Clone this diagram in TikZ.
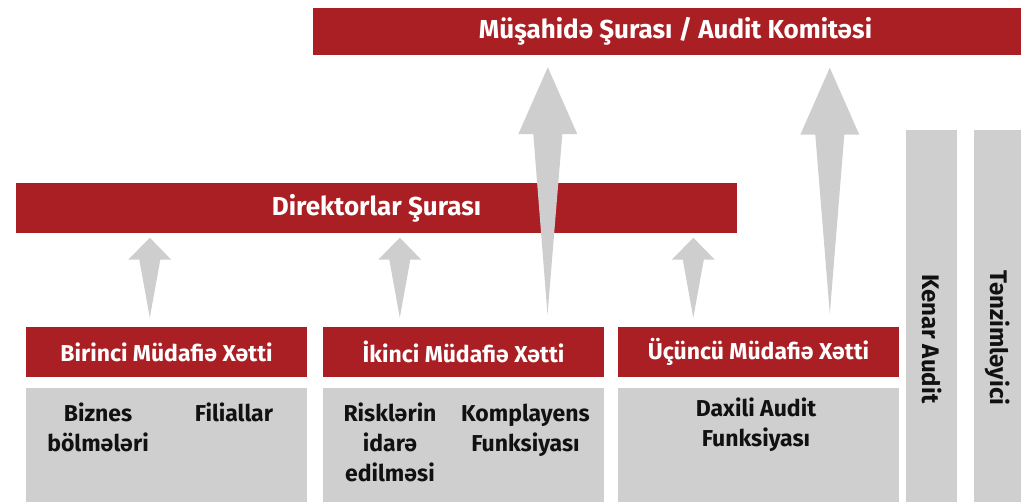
\documentclass[tikz,border=0pt]{standalone}
\usepackage{fontspec}
\setmainfont{Fira Sans}
\usetikzlibrary{calc}
\definecolor{barred}{RGB}{170,31,36}
\definecolor{boxgray}{RGB}{207,207,207}
\definecolor{arrowgray}{RGB}{206,206,206}
\definecolor{darktext}{RGB}{17,17,17}
\tikzset{
  redbar/.style={fill=barred, draw=none, inner sep=0pt, text=white, font=\bfseries\fontsize{26}{30}\selectfont},
  hdrbar/.style={fill=barred, draw=none, inner sep=0pt, text=white, minimum width=281pt, minimum height=50pt, font=\bfseries\fontsize{23}{27}\selectfont},
  graybox/.style={fill=boxgray, draw=none, inner sep=0pt},
  bodytext/.style={text=darktext, align=center, anchor=base, inner sep=0pt, font=\bfseries\fontsize{23}{30}\selectfont},
  vtext/.style={text=darktext, rotate=-90, inner sep=0pt, font=\bfseries\fontsize{24}{28}\selectfont},
  arrowfill/.style={fill=arrowgray, draw=none}
}
% #1 tail, #2 tip, #3 head half width, #4 shaft half width, #5 head length
\newcommand\fatuparrow[5]{%
  \fill[arrowfill] (#1) -- ($(#2)+(-#4,#5)$) -- ($(#2)+(-#3,#5)$) -- (#2)
    -- ($(#2)+(#3,#5)$) -- ($(#2)+(#4,#5)$) -- cycle;}
\begin{document}
\begin{tikzpicture}[x=1pt, y=-1pt]
\useasboundingbox (0,0) rectangle (1021,502);
% top bar
\node[redbar, minimum width=725pt, minimum height=47pt] (sup) at (675.5,31.5) {Müşahidə Şurası / Audit Komitəsi};
% board
\node[redbar, minimum width=721pt, minimum height=50pt] (board) at (376.5,208) {Direktorlar Şurası};
% vertical bars
\node[graybox, minimum width=51pt, minimum height=380pt] (ext) at (931.5,320) {};
\node[vtext] (extt) at (932,339) {Kenar Audit};
\node[graybox, minimum width=51pt, minimum height=380pt] (reg) at (999.5,320) {};
\node[vtext] (regt) at (998,338) {Tənzimləyici};
% lines of defence headers
\node[hdrbar] (l1) at (166.5,352) {Birinci Müdafiə Xətti};
\node[hdrbar] (l2) at (463.5,352) {İkinci Müdafiə Xətti};
\node[hdrbar] (l3) at (758.5,352) {Üçüncü Müdafiə Xətti};
% gray bodies
\node[graybox, minimum width=281pt, minimum height=122pt] (b1) at (166.5,449) {};
\node[graybox, minimum width=281pt, minimum height=122pt] (b2) at (463.5,449) {};
\node[graybox, minimum width=281pt, minimum height=122pt] (b3) at (758.5,449) {};
% base anchor = baseline of the last line
\node[bodytext] (t11) at (98,451.7) {Biznes\\bölmələri};
\node[bodytext] (t12) at (234,421.7) {Filiallar};
\node[bodytext] (t21) at (390,481.7) {Risklərin\\idarə\\edilməsi};
\node[bodytext] (t22) at (525.5,451.7) {Komplayens\\Funksiyası};
\node[bodytext] (t31) at (756,446.7) {Daxili Audit\\Funksiyası};
% arrow end points
\coordinate (a1t) at ($(l1.north west)+(124,-9)$);
\coordinate (a1h) at ($(board.south west)+(134,4.5)$);
\coordinate (a2t) at ($(l2.north west)+(77,-9)$);
\coordinate (a2h) at ($(board.south west)+(384,4.5)$);
\coordinate (a3t) at ($(l3.north west)+(75.5,-9)$);
\coordinate (a3h) at ($(board.south west)+(677.5,4.5)$);
\coordinate (A1t) at ($(l2.north west)+(224.7,-12)$);
\coordinate (A1h) at ($(sup.south west)+(235,12)$);
\coordinate (A2t) at ($(l3.north west)+(212,-13)$);
\coordinate (A2h) at ($(sup.south west)+(517,12.5)$);
% small arrows
\fatuparrow{a1t}{a1h}{21.5}{10.5}{22}
\fatuparrow{a2t}{a2h}{21.5}{10.5}{22}
\fatuparrow{a3t}{a3h}{21.5}{10.5}{22}
% big arrows
\fatuparrow{A1t}{A1h}{29.5}{14.5}{67}
\fatuparrow{A2t}{A2h}{29.5}{14.5}{67}
\end{tikzpicture}
\end{document}
